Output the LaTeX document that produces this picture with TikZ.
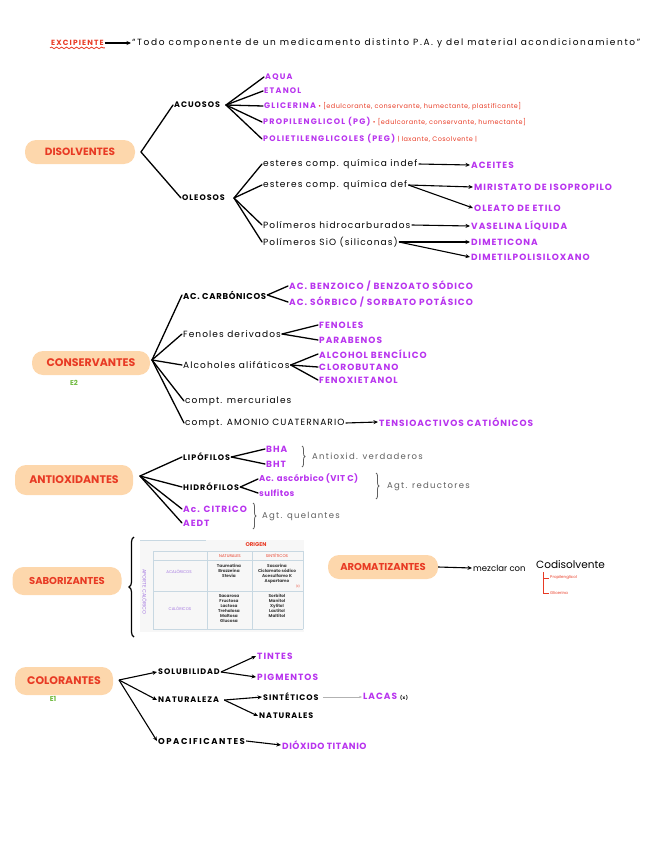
\documentclass[tikz,border=0pt]{standalone}
\usepackage{fontspec}
\setmainfont{Poppins}
\usetikzlibrary{positioning, arrows.meta, decorations.pathmorphing, decorations.pathreplacing}
\definecolor{rojo}{RGB}{232,58,36}
\definecolor{morado}{RGB}{184,52,238}
\definecolor{melocoton}{RGB}{253,215,172}
\definecolor{verde}{RGB}{112,186,64}
\definecolor{gris}{RGB}{95,95,95}
\definecolor{tinta}{RGB}{60,60,60}
\definecolor{rejilla}{RGB}{200,216,226}
\definecolor{lila}{RGB}{165,120,225}
\newcommand\esp[1]{\addfontfeature{LetterSpace=#1}}
\tikzstyle{lienzo}=[x=1pt,y=-1pt]
\tikzstyle{pildora}=[fill=melocoton,rounded corners=11pt,text=rojo,font=\bfseries\fontsize{10.5}{11}\selectfont,minimum height=24pt,inner sep=2pt]
\tikzstyle{neg}=[anchor=west,inner sep=1pt,font=\fontsize{9}{10}\selectfont\esp{12}]
\tikzstyle{mayus}=[anchor=west,inner sep=1pt,font=\bfseries\fontsize{8}{9}\selectfont\esp{12}]
\tikzstyle{mor}=[anchor=west,inner sep=1pt,text=morado,font=\bfseries\fontsize{9}{10}\selectfont\esp{11}]
\tikzstyle{morp}=[mor,font=\bfseries\fontsize{8}{9}\selectfont\esp{15}]
\tikzstyle{nota}=[anchor=west,inner sep=1pt,text=rojo,font=\fontsize{6.5}{7}\selectfont\esp{7}]
\tikzstyle{agt}=[anchor=west,inner sep=1pt,text=gris,font=\fontsize{8.5}{9}\selectfont\esp{15}]
\tikzstyle{enumero}=[inner sep=1pt,text=verde,font=\bfseries\fontsize{7}{8}\selectfont]
\tikzstyle{rama}=[line width=1.3pt,line cap=round]
\tikzstyle{flecha}=[-{Stealth[length=4.5pt,width=4pt]},line width=1.1pt]
\tikzstyle{llave}=[decorate,decoration={brace,amplitude=3pt},gris,line width=.8pt]
\tikzstyle{celda}=[inner sep=0pt,text=tinta,align=center,font=\bfseries\fontsize{4.2}{5}\selectfont]
\tikzstyle{cabeza}=[inner sep=0pt,font=\fontsize{4}{5}\selectfont]

\begin{document}
\begin{tikzpicture}[lienzo]
\useasboundingbox (0,0) rectangle (656,848);

% titulo
\node[neg,text=rojo,font=\bfseries\fontsize{7.5}{8}\selectfont\esp{15}] (excip) at (50,43) {EXCIPIENTE};
\node[neg,font=\fontsize{9}{10}\selectfont\esp{18}] (defin) at (131,43) {“Todo componente de un medicamento distinto P.A. y del material acondicionamiento”};
\draw[flecha] (excip.east) -- (defin.west);
\draw[rojo,line width=.8pt,decorate,decoration={snake,amplitude=.8pt,segment length=5pt}]
  ([yshift=-1pt]excip.south west) -- ([yshift=-1pt]excip.south east);

% disolventes
\node[pildora,minimum width=110pt] (disol) at (80,152) {DISOLVENTES};
\coordinate (disol-o) at (141,152);
\node[mayus] (acuosos) at (173,105) {ACUOSOS};
\node[mayus] (oleosos) at (181,198) {OLEOSOS};
\draw[rama] (disol-o) -- (acuosos.west);
\draw[rama] (disol-o) -- (oleosos.west);

\coordinate (acu-o) at (226,105);
\node[morp] (aqua) at (264,77) {AQUA};
\node[morp] (etanol) at (263,91) {ETANOL};
\node[morp] (glic) at (263,106) {GLICERINA};
\node[morp] (propil) at (262,122) {PROPILENGLICOL (PG)};
\node[morp] (polie) at (262,139) {POLIETILENGLICOLES (PEG)};
\foreach \n in {aqua,etanol,glic,propil,polie}
  \draw[rama] (acu-o) -- (\n.west);
\node[nota] (glic-n) at (glic.east) {• [edulcorante, conservante, humectante, plastificante]};
\node[nota] (propil-n) at (propil.east) {• [edulcorante, conservante, humectante]};
\node[nota] (polie-n) at (polie.east) {| laxante, Cosolvente |};

\coordinate (ole-o) at (234,198);
\node[neg] (est1) at (262,164) {esteres comp. química indef};
\node[neg] (est2) at (262,185) {esteres comp. química def};
\node[neg] (polh) at (262,225) {Polímeros hidrocarburados};
\node[neg] (pols) at (262,242) {Polímeros SiO (siliconas)};
\foreach \n in {est1,est2,polh,pols}
  \draw[rama] (ole-o) -- (\n.west);
\node[mor] (aceites) at (470,165) {ACEITES};
\node[mor] (miris) at (473,187) {MIRISTATO DE ISOPROPILO};
\node[mor] (oleato) at (473,208) {OLEATO DE ETILO};
\node[mor] (vaselina) at (470,226) {VASELINA LÍQUIDA};
\node[mor] (dimet) at (470,242) {DIMETICONA};
\node[mor] (dimpol) at (470,257) {DIMETILPOLISILOXANO};
\draw[flecha] (est1.east) -- (aceites.west);
\draw[flecha] (est2.east) -- (miris.west);
\draw[flecha] (est2.east) -- (oleato.west);
\draw[flecha] (polh.east) -- (vaselina.west);
\draw[flecha] (pols.east) -- (dimet.west);
\draw[flecha] (pols.east) -- (dimpol.west);

% conservantes
\node[pildora,minimum width=118pt,font=\bfseries\fontsize{11}{12}\selectfont] (conser) at (91,363) {CONSERVANTES};
\node[enumero] (e2) at (74,383) {E2};
\coordinate (conser-o) at (152,360);
\node[neg,font=\bfseries\fontsize{8.5}{9}\selectfont\esp{8}] (accarb) at (182,295) {AC. CARBÓNICOS};
\node[neg] (fenol) at (182,334) {Fenoles derivados};
\node[neg] (alcoh) at (182,365) {Alcoholes alifáticos};
\node[neg] (mercu) at (184,401) {compt. mercuriales};
\node[neg] (amonio) at (184,423) {compt. AMONIO CUATERNARIO};
\foreach \n in {accarb,fenol,alcoh,mercu,amonio}
  \draw[rama] (conser-o) -- (\n.west);
\node[mor] (benzo) at (288,286) {AC. BENZOICO / BENZOATO SÓDICO};
\node[mor] (sorb) at (288,302) {AC. SÓRBICO / SORBATO POTÁSICO};
\node[mor] (fenoles) at (318,325) {FENOLES};
\node[mor] (parab) at (318,340) {PARABENOS};
\node[mor] (alcben) at (318,354) {ALCOHOL BENCÍLICO};
\node[mor] (cloro) at (318,367) {CLOROBUTANO};
\node[mor] (fenox) at (318,380) {FENOXIETANOL};
\node[mor] (tensio) at (378,422) {TENSIOACTIVOS CATIÓNICOS};
\foreach \a/\b in {accarb/benzo, accarb/sorb, fenol/fenoles, fenol/parab, alcoh/alcben, alcoh/cloro, alcoh/fenox}
  \draw[rama] (\a.east) -- (\b.west);
\draw[flecha] (amonio.east) -- (tensio.west);

% antioxidantes
\node[pildora,minimum width=118pt,minimum height=30pt,font=\bfseries\fontsize{11}{12}\selectfont] (antiox) at (74,480) {ANTIOXIDANTES};
\coordinate (antiox-o) at (140,476);
\node[mayus] (lipo) at (182,457) {LIPÓFILOS};
\node[mayus] (hidro) at (182,487) {HIDRÓFILOS};
\node[mor] (citr) at (182,509) {Ac. CITRICO};
\node[mor] (aedt) at (182,523) {AEDT};
\foreach \n in {lipo,hidro,citr,aedt}
  \draw[rama] (antiox-o) -- (\n.west);
\node[mor] (bha) at (265,449) {BHA};
\node[mor] (bht) at (265,464) {BHT};
\node[mor,font=\bfseries\fontsize{8.5}{9}\selectfont\esp{5}] (ascor) at (258,479) {Ac. ascórbico (VIT C)};
\node[mor,font=\bfseries\fontsize{8.5}{9}\selectfont\esp{5}] (sulf) at (258,493) {sulfitos};
\foreach \a/\b in {lipo/bha, lipo/bht, hidro/ascor, hidro/sulf}
  \draw[rama] (\a.east) -- (\b.west);
\node[agt] (verd) at (311,456) {Antioxid. verdaderos};
\node[agt] (reduc) at (386,486) {Agt. reductores};
\node[agt] (quel) at (261,516) {Agt. quelantes};
\draw[llave] (302,446) -- (302,467);
\draw[llave] (376,473) -- (376,499);
\draw[llave] (253,503) -- (253,529);

% saborizantes
\node[pildora,minimum width=109pt,minimum height=28pt,font=\bfseries\fontsize{10}{11}\selectfont] (sabor) at (67,581) {SABORIZANTES};
\draw[decorate,decoration={brace,amplitude=5pt},line width=1.2pt] (134,637) -- (134,537);
\fill[gray!6] (140,540) rectangle (304,632);
\draw[rejilla,line width=.6pt] (140,540) -- (206,540);
\foreach \yy in {551,560,591,629}
  \draw[rejilla,line width=.6pt] (153,\yy) -- (303,\yy);
\foreach \xx in {153,207,252,303}
  \draw[rejilla,line width=.6pt] (\xx,551) -- (\xx,629);
\node[cabeza,text=rojo,font=\bfseries\fontsize{5.5}{6}\selectfont] (origen) at (256,545) {ORIGEN};
\node[cabeza,text=rojo] (t-nat) at (230,556) {NATURALES};
\node[cabeza,text=rojo] (t-sint) at (277,556) {SINTÉTICOS};
\node[cabeza,text=lila,rotate=-90,font=\fontsize{5}{6}\selectfont] (aporte) at (145,592) {APORTE CALÓRICO};
\node[cabeza,text=lila] (t-acal) at (179,572) {ACALÓRICOS};
\node[cabeza,text=lila] (t-cal) at (180,609) {CALÓRICOS};
\node[celda] (nat-acal) at (229,571) {Taumatina\\Brazzeína\\Stevia};
\node[celda] (sint-acal) at (277,574) {Sacarina\\Ciclamato sódico\\Acesulfamo K\\Aspartamo};
\node[celda,text=rojo,font=\fontsize{2.8}{3}\selectfont] (edul) at (298,586) {(E)};
\node[celda] (nat-cal) at (229,609) {Sacarosa\\Fructosa\\Lactosa\\Trehalosa\\Maltosa\\Glucosa};
\node[celda] (sint-cal) at (277,606) {Sorbitol\\Manitol\\Xylitol\\Lactitol\\Maltitol};

% aromatizantes
\node[pildora,minimum width=110pt,font=\bfseries\fontsize{10}{11}\selectfont] (aroma) at (383,567) {AROMATIZANTES};
\node[neg,font=\fontsize{8.5}{9}\selectfont] (mezcl) at (472,568) {mezclar con};
\node[neg,font=\fontsize{10.5}{11}\selectfont] (codis) at (535,565) {Codisolvente};
\draw[flecha] (aroma.east) -- (mezcl.west);
\coordinate (codis-r) at (543,572);
\node[nota,font=\fontsize{4}{5}\selectfont] (prop2) at (549,578) {Propilenglicol};
\node[nota,font=\fontsize{4}{5}\selectfont] (glic2) at (549,593) {Glicerina};
\draw[rojo,line width=.6pt] (codis-r) |- (prop2.west);
\draw[rojo,line width=.6pt] (codis-r) |- (glic2.west);

% colorantes
\node[pildora,minimum width=98pt,minimum height=28pt,font=\bfseries\fontsize{11}{12}\selectfont] (color) at (64,681) {COLORANTES};
\node[enumero] (e1) at (53,699) {E1};
\coordinate (color-o) at (119,680);
\node[mayus] (solub) at (157,672) {SOLUBILIDAD};
\node[mayus] (natur) at (157,700) {NATURALEZA};
\node[mayus,font=\bfseries\fontsize{8.5}{9}\selectfont\esp{18}] (opaci) at (157,741) {OPACIFICANTES};
\foreach \n in {solub,natur,opaci}
  \draw[flecha] (color-o) -- (\n.west);
\node[mor] (tintes) at (256,656) {TINTES};
\node[mor] (pigm) at (256,677) {PIGMENTOS};
\node[mayus] (sint) at (262,697) {SINTÉTICOS};
\node[mayus] (natu) at (258,716) {NATURALES};
\node[mor] (lacas) at (362,697) {LACAS {\color{black}\fontsize{4.5}{5}\selectfont(x)}};
\node[mor,font=\bfseries\fontsize{9}{10}\selectfont\esp{6}] (dioxi) at (281,745) {DIÓXIDO TITANIO};
\draw[flecha] (solub.east) -- (tintes.west);
\draw[flecha] (solub.east) -- (pigm.west);
\draw[flecha] ([xshift=4pt]natur.east) -- (sint.west);
\draw[flecha] ([xshift=4pt]natur.east) -- (natu.west);
\draw[-{Stealth[length=3pt]},gray!60,line width=.6pt] ([xshift=3pt]sint.east) -- (lacas.west);
\draw[flecha] (opaci.east) -- (dioxi.west);
\end{tikzpicture}
\end{document}
